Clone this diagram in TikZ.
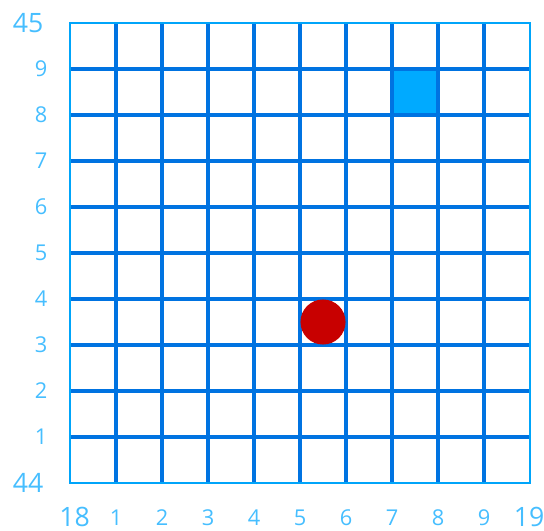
\documentclass[tikz,border=0pt]{standalone}
\usepackage{fontspec}
\setmainfont{Open Sans}
\definecolor{gridblue}{RGB}{0,115,225}
\definecolor{edgeblue}{RGB}{0,165,250}
\definecolor{cellblue}{RGB}{0,170,255}
\definecolor{labelblue}{RGB}{70,190,255}
\definecolor{dotred}{RGB}{200,0,0}
\tikzset{
  gridline/.style={gridblue,line width=2.4pt},
  edgeline/.style={edgeblue,line width=1.8pt},
  ticklabel/.style={labelblue,font=\fontsize{13.5}{13.5}\selectfont},
  cornerlabel/.style={labelblue,font=\fontsize{16.5}{16.5}\selectfont}
}
\begin{document}
\begin{tikzpicture}[scale=1]
                \useasboundingbox (-1.522,-1.043) rectangle (10.304,10.5);
                % filled cell
                \fill[cellblue] (7,8) rectangle (8,9);
                % inner grid lines
                \foreach \i in {1,...,9} {
                  \draw[gridline] (\i,0) -- (\i,10);
                  \draw[gridline] (0,\i) -- (10,\i);
                }
                % outer border
                \draw[edgeline] (0,0) rectangle (10,10);
                % red dot
                \fill[dotred] (5.5,3.5) circle (0.49);
                % tick labels
                \foreach \i in {1,...,9} {
                  \node[ticklabel] (x\i) at (\i,-0.76) {\i};
                  \node[ticklabel] (y\i) at (-0.63,\i) {\i};
                }
                % corner labels
                \node[cornerlabel] (ytop) at (-0.91,10) {45};
                \node[cornerlabel] (ybot) at (-0.91,0) {44};
                \node[cornerlabel] (xleft) at (0.1,-0.74) {18};
                \node[cornerlabel] (xright) at (9.98,-0.74) {19};
            \end{tikzpicture}
\end{document}
